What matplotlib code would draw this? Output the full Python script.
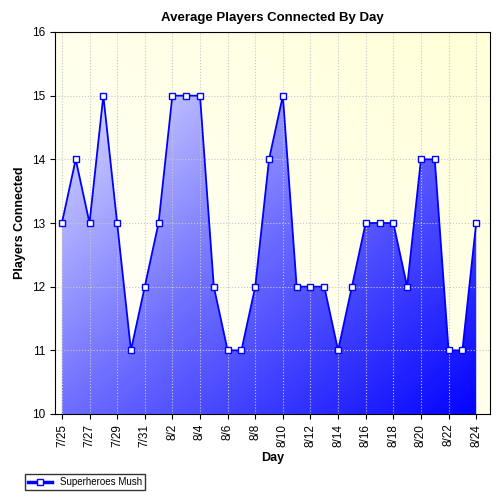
import matplotlib
matplotlib.use('Agg')
import matplotlib.pyplot as plt
import numpy as np
from matplotlib.colors import LinearSegmentedColormap
from matplotlib.patches import Polygon
from matplotlib.lines import Line2D

days = ['7/25', '7/26', '7/27', '7/28', '7/29', '7/30', '7/31', '8/1', '8/2', '8/3',
        '8/4', '8/5', '8/6', '8/7', '8/8', '8/9', '8/10', '8/11', '8/12', '8/13',
        '8/14', '8/15', '8/16', '8/17', '8/18', '8/19', '8/20', '8/21', '8/22', '8/23', '8/24']
players = [13, 14, 13, 15, 13, 11, 12, 13, 15, 15, 15, 12, 11, 11, 12, 14, 15, 12, 12, 12,
           11, 12, 13, 13, 13, 12, 14, 14, 11, 11, 13]

plt.rcParams['font.family'] = ['Liberation Sans', 'DejaVu Sans']
fig = plt.figure(figsize=(5, 5), dpi=100)
ax = fig.add_axes([0.11, 0.172, 0.87, 0.764])
x = np.arange(len(days))
xlim = (-0.5, 31.0)
ylim = (10, 16)
ax.set_xlim(*xlim)
ax.set_ylim(*ylim)

# background: white bottom-left to pale yellow top-right
gx, gy = np.meshgrid(np.linspace(0, 1, 200), np.linspace(0, 1, 200))
g = (gx + gy) / 2
bg = LinearSegmentedColormap.from_list('bg', ['#ffffff', '#ffffd8'])
ax.imshow(g, cmap=bg, extent=[*xlim, *ylim], origin='lower', aspect='auto', zorder=0)

# area gradient: lavender top-left to blue bottom-right
fg = LinearSegmentedColormap.from_list('fg', ['#f4f4ff', '#7070ff', '#0000ff'])
g2 = (gx + (1 - gy)) / 2
im = ax.imshow(g2, cmap=fg, extent=[*xlim, *ylim], origin='lower', aspect='auto', zorder=1)
poly = Polygon(list(zip(x, players)) + [(x[-1], 10), (x[0], 10)], closed=True,
               transform=ax.transData, facecolor='none', edgecolor='none')
ax.add_patch(poly)
im.set_clip_path(poly)

ax.plot(x, players, color='#0000ff', lw=1.3, marker='s', ms=5, mfc='white',
        mec='#0000ff', mew=1, zorder=3)

ax.grid(True, color='#c8c8c8', linestyle=':', lw=0.8, zorder=0.5)
ax.set_xticks(x[::2])
ax.set_xticklabels(days[::2], rotation=90, fontsize=8.5)
ax.set_yticks(range(10, 17))
ax.tick_params(labelsize=8.5)
ax.set_xlabel('Day', fontsize=9, fontweight='bold')
ax.set_ylabel('Players Connected', fontsize=9, fontweight='bold')
ax.set_title('Average Players Connected By Day', fontsize=9.5, fontweight='bold', pad=8)

h = Line2D([], [], color='#0000ff', marker='s', mfc='white', mec='#0000ff', ms=5, lw=2.5)
fig.legend([h], ['Superheroes Mush'], loc='lower left', bbox_to_anchor=(0.04, 0.01),
           fontsize=7, frameon=True, fancybox=False, edgecolor='black',
           handlelength=2.5, borderpad=0.3)

fig.savefig('out.png', facecolor='white')
